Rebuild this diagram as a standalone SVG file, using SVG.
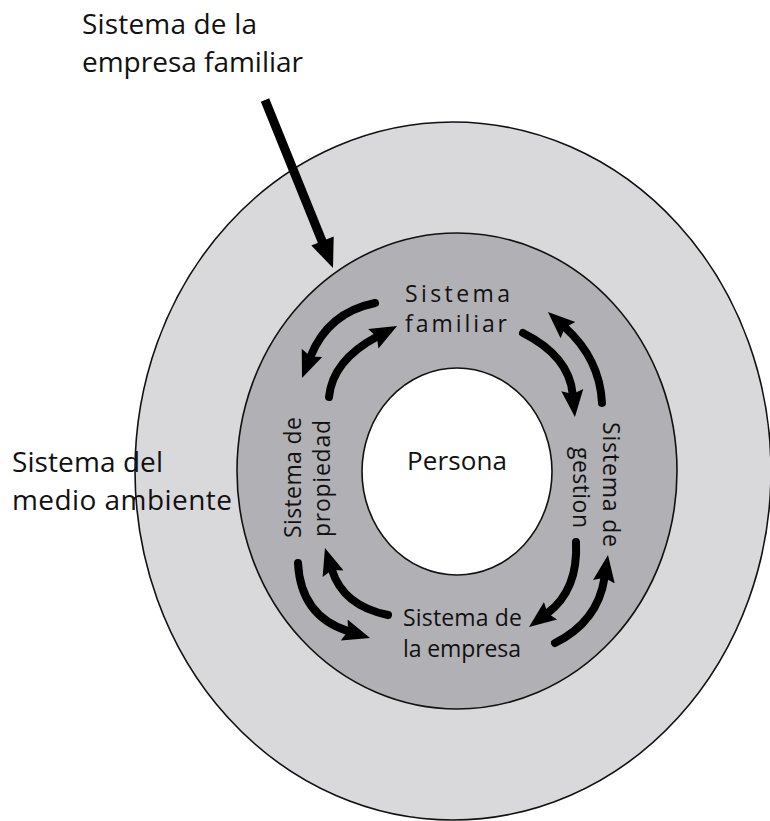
<svg xmlns="http://www.w3.org/2000/svg" width="770" height="821" viewBox="0 0 770 821">
  <style>
    .ring { stroke: #111; stroke-width: 1.6; }
    .lbl { font-family: "Open Sans", "Liberation Sans", Arial, sans-serif; fill: #111; }
    .big { font-size: 28px; }
    .mid { font-size: 23px; }
    .flow { fill: none; stroke: #000; stroke-width: 8; stroke-linecap: round; marker-end: url(#head); }
  </style>
  <defs>
    <marker id="head" markerUnits="userSpaceOnUse" markerWidth="28" markerHeight="24" viewBox="0 0 28 24" refX="4" refY="12" orient="auto">
      <path d="M0,1 L27,12 L0,23 L4,12 z" fill="#000"/>
    </marker>
  </defs>

  <rect width="770" height="821" fill="#fff"/>

  <!-- nested systems -->
  <g id="medio-ambiente">
    <ellipse class="ring" cx="453" cy="471" rx="318" ry="349" fill="#d9d9dc"/>
    <text class="lbl big" x="12" y="472" textLength="151">Sistema del</text>
    <text class="lbl big" x="12" y="510" textLength="220">medio ambiente</text>
  </g>

  <g id="empresa-familiar">
    <ellipse class="ring" cx="457" cy="471" rx="220" ry="238" fill="#b1b0b5"/>
  </g>

  <g id="persona">
    <ellipse class="ring" cx="457" cy="471.5" rx="95" ry="103.5" fill="#fff"/>
    <text class="lbl" x="457" y="470" font-size="26" text-anchor="middle" textLength="100">Persona</text>
  </g>

  <g id="etiqueta-empresa-familiar">
    <text class="lbl big" x="82" y="34" textLength="175">Sistema de la</text>
    <text class="lbl big" x="82" y="72" textLength="221">empresa familiar</text>
  </g>

  <g id="sistema-familiar">
    <text class="lbl mid" x="457.5" y="302" text-anchor="middle" textLength="105">Sistema</text>
    <text class="lbl mid" x="456" y="332" text-anchor="middle" textLength="102">familiar</text>
  </g>

  <g id="sistema-empresa">
    <text class="lbl mid" x="462.5" y="626" text-anchor="middle" textLength="119">Sistema de</text>
    <text class="lbl mid" x="462" y="657" text-anchor="middle" textLength="118">la empresa</text>
  </g>

  <g id="sistema-propiedad" transform="translate(301,477.5) rotate(-90)">
    <text class="lbl mid" x="0" y="0" text-anchor="middle" textLength="121">Sistema de</text>
    <text class="lbl mid" x="-1" y="29" text-anchor="middle" textLength="117">propiedad</text>
  </g>

  <g id="sistema-gestion" transform="translate(603,484.5) rotate(90)">
    <text class="lbl mid" x="0" y="0" text-anchor="middle" textLength="125">Sistema de</text>
    <text class="lbl mid" x="3" y="30" text-anchor="middle" textLength="81">gestion</text>
  </g>

  <!-- connectors -->
  <g id="connectors">
    <!-- pointer to the family business ring -->
    <line x1="265" y1="100" x2="324" y2="246" stroke="#000" stroke-width="9"/>
    <polygon points="333,268 333.7,236.6 311.3,245.4" fill="#000"/>

    <!-- familiar <-> propiedad -->
    <path class="flow" d="M375,303 Q328,312.6 310.5,356.6"/>
    <path class="flow" d="M329,397 Q332.7,360.4 376.8,336.8"/>

    <!-- familiar <-> gestion -->
    <path class="flow" d="M523,333 Q569,356 572.7,394.1"/>
    <path class="flow" d="M602,403 Q599.8,358.9 565,327.4"/>

    <!-- gestion <-> empresa -->
    <path class="flow" d="M576,542 Q578.4,590 547.4,613.2"/>
    <path class="flow" d="M555,643 Q597.8,621.6 604.5,577.8"/>

    <!-- empresa <-> propiedad -->
    <path class="flow" d="M298,563 Q300.7,616.1 348.1,631.1"/>
    <path class="flow" d="M388,615 Q343.3,606 331.9,569.9"/>
  </g>
</svg>
